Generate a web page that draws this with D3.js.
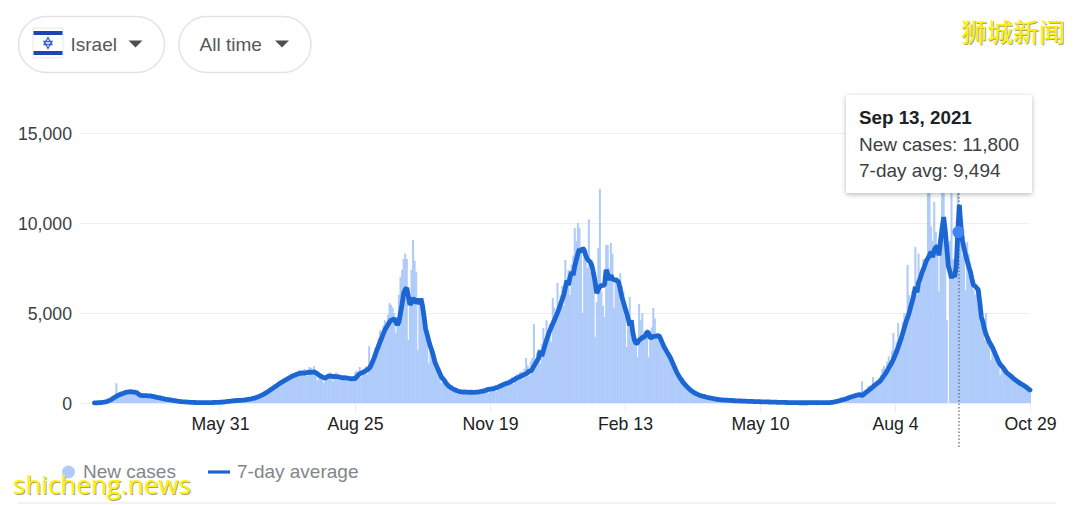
<!DOCTYPE html>
<html>
<head>
<meta charset="utf-8">
<script src="https://cdn.jsdelivr.net/npm/d3@7"></script>
<style>
html,body{margin:0;padding:0;background:#fff;overflow:hidden}
svg{display:block;font-family:"Liberation Sans",Arial,sans-serif}
</style>
</head>
<body>
<svg id="chart" width="1080" height="505"></svg>
<script>
const firstDay = "2020-03-12";
const tickDates = ["2020-05-31","2020-08-25","2020-11-19","2021-02-13","2021-05-10","2021-08-04","2021-10-29"];
const yTicks = [0,5000,10000,15000];
const pickers = ["Israel","All time"];
const legendLabels = ["New cases","7-day average"];
const tooltipDay = "2021-09-13";
const tooltipCases = 11800;
const tooltipAvg = 9494;

const newCases = [
20,15,10,25,30,40,50,60,110,150,
180,230,280,340,1100,420,480,550,600,620,
650,680,700,720,680,640,610,500,330,400,
470,430,420,440,410,310,380,400,330,310,
320,300,240,290,250,200,180,210,170,150,
150,120,100,110,85,70,70,60,60,50,
50,30,40,30,25,20,25,15,20,20,
25,15,20,15,25,30,25,30,40,30,
50,40,60,70,80,70,100,110,130,130,
150,120,150,170,160,140,190,200,230,240,
250,220,290,340,380,350,430,480,540,600,
650,560,780,840,900,950,850,1080,1150,1200,
1250,1100,1350,1400,1500,1550,1400,1650,1680,1700,
1800,1850,1650,1800,1900,1500,1700,2000,1950,1850,
2050,1750,1250,1400,1500,1600,1100,1450,1600,1650,
1700,1500,1200,1600,1700,1500,1300,1500,1500,1350,
1450,1500,1300,1500,1250,1500,1700,1800,1300,2000,
1400,1800,1900,2050,1600,3150,2300,2500,2700,3100,
3300,3600,4050,3600,4300,4600,4200,4900,5550,5450,
5300,5000,3900,4800,6000,7000,7400,8000,8300,8000,
3500,6000,7400,9050,7900,7300,2950,5800,5400,4700,
4300,3900,3500,2200,3400,2600,2900,2300,2000,1900,
1900,1100,1400,1350,1200,1050,950,850,820,700,
700,500,600,700,680,550,620,600,620,620,
620,450,580,650,680,620,640,700,680,750,
780,550,760,820,830,880,650,900,1000,1100,
1050,1150,950,1250,1300,1350,1440,1050,1500,1600,
1500,1700,1750,1300,1900,2500,2100,1500,2300,2500,
4390,2400,2800,3000,2200,3300,4170,3500,4600,4000,
4400,3400,5830,5300,5000,6670,4900,6000,6500,5400,
7940,6900,7400,6000,7700,8200,9720,9000,10000,9720,
8600,5000,8400,8300,7500,10200,7300,7600,6800,3670,
5600,8600,11900,6200,5400,4780,8780,8780,7500,8890,
8300,5300,6900,7000,6800,7200,6500,6200,4800,3110,
4600,5900,4500,3800,3900,3600,2560,5500,4600,5000,
3900,3700,4100,2560,3800,4200,5280,4700,3700,3800,
3700,3300,3000,3200,2800,2900,2500,2400,2200,2000,
1800,1500,1500,1300,1250,1100,1050,800,820,760,
680,520,590,520,500,430,420,400,360,330,
320,270,280,250,240,220,220,200,180,150,
190,160,170,160,140,120,150,140,120,110,
130,110,110,100,100,85,100,90,85,70,
85,80,75,70,65,50,65,60,55,50,
60,50,50,45,40,30,45,40,35,30,
30,25,28,22,20,15,20,18,15,12,
12,10,15,14,14,12,18,18,20,18,
18,15,20,20,22,20,28,30,32,30,
50,50,80,100,120,110,190,200,220,200,
300,330,360,400,380,340,500,450,500,1200,
550,600,700,950,900,1000,1440,1100,1000,1150,
1200,1550,1900,2050,1800,2300,2600,2300,2900,3890,
3000,3400,4440,3700,3900,4500,5000,4600,7670,6000,
5800,6200,6500,8670,6000,8300,7000,7500,8000,7700,
7800,11900,11700,9800,9000,11170,9500,8800,6200,8500,
12500,12300,9800,4600,0,9000,12400,8000,7500,8200,
11800,10800,9200,8200,8400,6280,8940,8300,7800,6900,
6300,6000,6500,6100,5400,4600,4300,3500,5000,3900,
3700,2390,3300,3100,2800,2600,2400,1555,2200,2000,
1900,1750,1650,1400,1500,1350,1300,1150,1200,1100,
1100,950,1000,950,850,800,560
];

const sevenDayAvg = [
10,12,15,20,25,35,45,60,85,120,
160,200,270,320,370,420,460,500,530,560,
590,610,620,625,620,610,600,570,500,440,
420,410,405,410,400,395,390,370,350,330,
310,290,280,260,240,220,205,190,175,160,
145,130,115,100,90,80,72,65,60,52,
48,40,36,30,28,25,22,20,18,20,
20,22,20,18,22,25,28,30,35,38,
42,48,55,65,75,85,95,105,115,125,
130,140,145,150,155,165,175,190,205,220,
235,255,270,300,330,370,410,450,500,550,
600,660,720,780,840,900,960,1020,1080,1140,
1190,1240,1290,1340,1390,1440,1490,1530,1560,1600,
1630,1650,1665,1670,1660,1680,1700,1720,1700,1720,
1730,1680,1620,1560,1500,1450,1410,1390,1430,1480,
1500,1490,1470,1480,1460,1470,1440,1420,1400,1410,
1400,1390,1370,1360,1340,1350,1360,1430,1550,1620,
1670,1700,1750,1800,1850,1920,2050,2250,2450,2700,
2950,3150,3400,3600,3850,4050,4200,4350,4500,4600,
4620,4700,4500,4350,4500,5000,5500,6100,6300,6400,
5900,5450,5600,5830,5700,5550,5800,5500,5800,5400,
4800,4100,3800,3450,3150,2900,2600,2250,2050,1850,
1650,1450,1350,1250,1100,1000,920,860,800,760,
720,680,650,630,620,610,610,600,600,590,
600,590,590,600,610,620,640,650,670,700,
730,760,770,780,790,830,850,880,920,960,
1000,1040,1080,1100,1130,1170,1220,1280,1330,1380,
1420,1460,1500,1540,1590,1630,1680,1800,1760,1900,
2050,2200,2350,2500,2900,2600,2900,3200,3500,3750,
4000,4200,4400,4600,4800,5000,5250,5500,5750,6000,
6400,6800,6550,7000,7280,7100,7600,7950,8300,8550,
8400,8600,8500,8200,8000,7900,7830,7600,7200,6700,
6100,6300,6450,6550,6500,6600,7400,7150,6830,7100,
6900,6850,6830,6800,6700,6300,5900,5600,5300,5000,
4700,4300,4600,3900,3500,3300,3350,3500,3550,3650,
3650,3750,3950,3900,3600,3650,3700,3700,3720,3750,
3700,3500,3300,3100,2950,2800,2650,2500,2300,2100,
1900,1700,1550,1400,1280,1150,1050,950,860,780,
700,640,580,530,490,450,420,390,370,350,
320,300,280,265,250,235,220,205,190,175,
170,165,160,155,150,145,140,130,125,120,
120,115,110,105,100,100,95,90,85,85,
80,80,75,72,70,68,65,62,60,58,
55,52,50,48,45,42,40,38,35,32,
30,28,26,24,22,20,18,17,16,15,
14,14,14,15,15,16,18,20,22,25,
15,16,17,18,19,20,22,24,26,28,
40,55,70,90,110,130,170,190,210,240,
270,300,330,360,390,420,440,460,470,400,
480,560,620,690,760,830,900,980,1050,1120,
1170,1270,1400,1520,1650,1780,1950,2100,2250,2430,
2650,2850,3100,3350,3600,3900,4200,4500,4750,5000,
5350,5650,6000,6450,6150,6700,6900,7200,7400,7650,
7900,8050,8220,8400,8100,8500,8650,8700,8200,9000,
9700,10330,9600,8600,7600,7300,6940,7200,7000,7600,
9494,11000,9800,9000,8600,8200,7900,7560,7300,6900,
6550,6500,6400,6300,5600,4800,4500,4100,3800,3600,
3400,3250,3100,2900,2700,2500,2300,2150,2050,1950,
1820,1700,1620,1555,1480,1400,1330,1260,1200,1130,
1080,1030,980,920,860,790,720
];

const parse = d3.utcParse("%Y-%m-%d");
const start = parse(firstDay);
const dayOf = i => d3.utcDay.offset(start, i);

const svg = d3.select("#chart");
const x = d3.scaleUtc().domain([start, parse("2021-10-29")]).range([94.4, 1030]);
const y = d3.scaleLinear().domain([0, 15000]).range([403, 133]);

const BAR = "#aecbfa", LINE = "#1b66d2", GRID = "#eeeeee";

const defs = svg.append("defs");
const sh = defs.append("filter").attr("id","shadow").attr("x","-10%").attr("y","-10%").attr("width","120%").attr("height","125%");
sh.append("feDropShadow").attr("dx",0).attr("dy",1.5).attr("stdDeviation",2.5).attr("flood-color","#000").attr("flood-opacity",0.28);
const soft = defs.append("filter").attr("id","soft");
soft.append("feGaussianBlur").attr("stdDeviation",0.3);

// pickers
function pill(px, w, label, tx, cx){
  const g = svg.append("g");
  g.append("rect").attr("x",px).attr("y",16.5).attr("width",w).attr("height",56).attr("rx",28)
    .attr("fill","#fff").attr("stroke","#e2e3e6").attr("stroke-width",1.5);
  g.append("text").attr("x",tx).attr("y",50.5).attr("font-size",19).attr("fill","#55585b").text(label);
  g.append("path").attr("d",d3.line()([[cx-7,40.5],[cx+7,40.5],[cx,47.5]])+"Z").attr("fill","#4d5053");
}
pill(18.5,146,pickers[0],70.5,135.5);
pill(179,132,pickers[1],199.5,282);

// flag
const flag = svg.append("g");
flag.append("rect").attr("x",33).attr("y",28).attr("width",30).attr("height",30).attr("fill","#fff").attr("stroke","#e6e8f0").attr("stroke-width",1);
flag.append("rect").attr("x",33.5).attr("y",31).attr("width",29).attr("height",4).attr("fill","#1f45b5");
flag.append("rect").attr("x",33.5).attr("y",51).attr("width",29).attr("height",4).attr("fill","#1f45b5");
flag.append("path").attr("d",d3.line()([[48,37.5],[52,44.5],[44,44.5]])+"Z").attr("fill","none").attr("stroke","#3f62c6").attr("stroke-width",1.3);
flag.append("path").attr("d",d3.line()([[48,48.5],[52,41.5],[44,41.5]])+"Z").attr("fill","none").attr("stroke","#3f62c6").attr("stroke-width",1.3);

// y axis and gridlines
const yAxis = d3.axisLeft(y).tickValues(yTicks).tickFormat(d3.format(",")).tickSize(0).tickPadding(0);
const gy = svg.append("g").attr("transform","translate(72,0)").call(yAxis);
gy.select(".domain").remove();
gy.selectAll("text").attr("font-size",17.7).attr("font-family","inherit").attr("fill","#3c4043").attr("dy","0.34em");
svg.append("g").selectAll("line").data(yTicks).join("line")
  .attr("x1",80).attr("x2",1030).attr("y1",d=>y(d)+0.5).attr("y2",d=>y(d)+0.5)
  .attr("stroke",GRID).attr("stroke-width",1.2);

// x axis
const xAxis = d3.axisBottom(x).tickValues(tickDates.map(parse)).tickFormat(d3.utcFormat("%b %-d")).tickSize(9).tickPadding(5);
const gx = svg.append("g").attr("transform","translate(0,403)").call(xAxis);
gx.select(".domain").remove();
gx.selectAll("line").attr("stroke",GRID).attr("stroke-width",1.2);
gx.selectAll("text").attr("font-size",17.7).attr("font-family","inherit").attr("fill","#202124");

// bars
const bw = (x(dayOf(1)) - x(dayOf(0))) + 0.45;
svg.append("g").attr("filter","url(#soft)").selectAll("rect").data(newCases).join("rect")
  .attr("x",(d,i)=>x(dayOf(i))-bw/2).attr("width",bw)
  .attr("y",d=>y(d)).attr("height",d=>y(0)-y(d))
  .attr("fill",BAR);

// hover line
const hoverX = x(parse(tooltipDay));
svg.append("line").attr("x1",hoverX+1.2).attr("x2",hoverX+1.2).attr("y1",190).attr("y2",448)
  .attr("stroke","#5f6368").attr("stroke-width",1.2).attr("stroke-dasharray","1.5,2");

// 7-day line
const lineGen = d3.line().x((d,i)=>x(dayOf(i))).y(d=>y(d));
svg.append("path").datum(sevenDayAvg).attr("d",lineGen).attr("fill","none")
  .attr("stroke",LINE).attr("stroke-width",4.8).attr("stroke-linejoin","bevel").attr("stroke-linecap","round");

// hover dot
svg.append("circle").attr("cx",hoverX+0.6).attr("cy",y(tooltipAvg)).attr("r",6).attr("fill","#4285f4");

// tooltip
const tip = svg.append("g");
tip.append("rect").attr("x",846).attr("y",95).attr("width",186).attr("height",98).attr("rx",2).attr("fill","#fff").attr("filter","url(#shadow)");
tip.append("text").attr("x",859).attr("y",124).attr("font-size",18.8).attr("font-weight","bold").attr("fill","#202124").text(d3.utcFormat("%b %d, %Y")(parse(tooltipDay)));
tip.append("text").attr("x",859).attr("y",151).attr("font-size",19).attr("fill","#3c4043").text("New cases: "+d3.format(",")(tooltipCases));
tip.append("text").attr("x",859).attr("y",177).attr("font-size",19).attr("fill","#3c4043").text("7-day avg: "+d3.format(",")(tooltipAvg));

// legend
svg.append("circle").attr("cx",68.5).attr("cy",472).attr("r",6.5).attr("fill",BAR);
svg.append("text").attr("x",83).attr("y",478).attr("font-size",19).attr("fill","#80868b").text(legendLabels[0]);
svg.append("line").attr("x1",208).attr("x2",230).attr("y1",472).attr("y2",472).attr("stroke",LINE).attr("stroke-width",3.2);
svg.append("text").attr("x",237).attr("y",478).attr("font-size",19).attr("fill","#80868b").text(legendLabels[1]);

// bottom rule
svg.append("line").attr("x1",18).attr("x2",1056).attr("y1",503).attr("y2",503).attr("stroke",GRID).attr("stroke-width",1.5);

// watermarks
function mark(tx, ty, size, text, font, weight){
  svg.append("text").attr("x",tx+1).attr("y",ty+1).attr("font-size",size).attr("font-family",font).attr("font-weight",weight).attr("fill","#a3a37a").text(text);
  svg.append("text").attr("x",tx).attr("y",ty).attr("font-size",size).attr("font-family",font).attr("font-weight",weight).attr("fill","#fff200").text(text);
}
mark(13,494,26,"shicheng.news","'Open Sans',sans-serif",400);
mark(961,42,26,"狮城新闻","'Noto Sans CJK SC',sans-serif",400);
</script>
</body>
</html>
